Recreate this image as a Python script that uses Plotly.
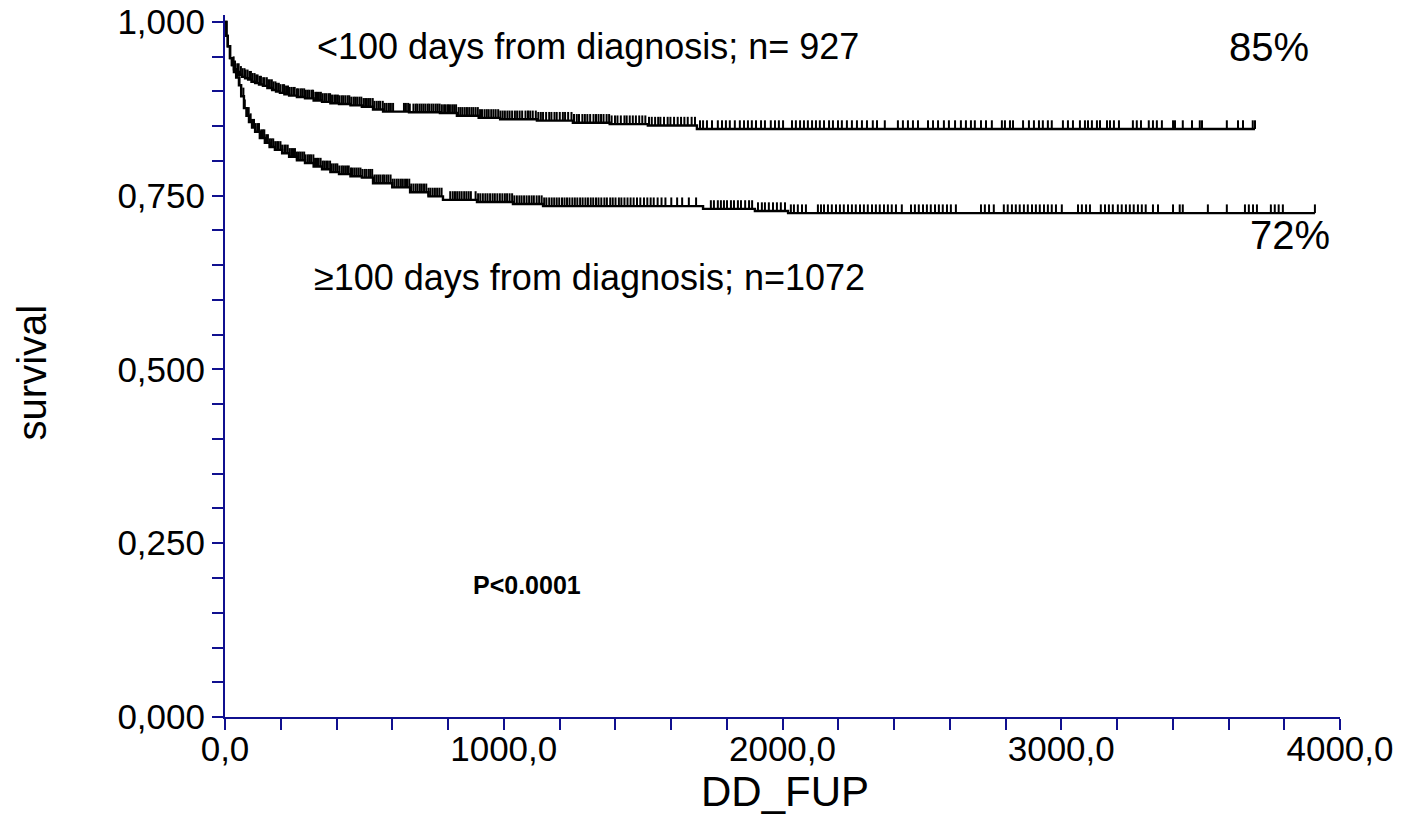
import numpy as np
import plotly.graph_objects as go

# ---------------- data ----------------
# Kaplan-Meier step points (days, survival)
early_t = [0, 5, 10, 18, 25, 32, 39, 50, 61, 72, 83, 95, 108, 122, 136, 152, 169, 183, 197, 213,
           230, 258, 287, 318, 348, 378, 409, 450, 491, 531, 567, 660, 771, 832, 910, 987, 1119,
           1248, 1380, 1517, 1693, 3695]
early_s = [1.000, 0.980, 0.965, 0.948, 0.938, 0.932, 0.928, 0.924, 0.921, 0.919, 0.917, 0.914,
           0.912, 0.910, 0.908, 0.905, 0.902, 0.900, 0.898, 0.896, 0.894, 0.892, 0.890, 0.887,
           0.885, 0.883, 0.882, 0.880, 0.878, 0.874, 0.871, 0.870, 0.869, 0.865, 0.862, 0.860,
           0.858, 0.855, 0.853, 0.851, 0.846, 0.846]

late_t = [0, 5, 10, 18, 25, 32, 40, 50, 58, 68, 77, 86, 97, 108, 125, 143, 160, 179, 205, 230,
          258, 287, 318, 348, 378, 409, 450, 491, 531, 600, 664, 730, 782, 904, 1033, 1141, 1715,
          1901, 2020, 3910]
late_s = [1.000, 0.980, 0.965, 0.948, 0.938, 0.928, 0.920, 0.909, 0.893, 0.876, 0.865, 0.856,
          0.848, 0.842, 0.833, 0.826, 0.820, 0.816, 0.811, 0.806, 0.801, 0.797, 0.792, 0.788,
          0.784, 0.781, 0.778, 0.776, 0.768, 0.762, 0.755, 0.749, 0.744, 0.741, 0.738, 0.735,
          0.731, 0.728, 0.725, 0.725]

# censoring times (days)
early_cens = [31, 36, 44, 49, 57, 63, 70, 74, 81, 88, 93, 99, 106, 112, 117, 124, 129, 137, 142,
              150, 155, 161, 168, 174, 181, 186, 193, 199, 207, 212, 219, 226, 231, 238, 245, 250,
              258, 263, 271, 277, 284, 290, 297, 303, 311, 316, 324, 330, 337, 344, 350, 357, 363,
              371, 377, 384, 392, 398, 405, 411, 419, 425, 432, 440, 446, 453, 461, 467, 474, 482,
              489, 497, 503, 509, 516, 522, 530, 536, 544, 551, 557, 566, 573, 580, 588, 595, 603,
              642, 649, 657, 663, 676, 684, 690, 698, 705, 712, 719, 727, 733, 741, 748, 756, 763,
              770, 778, 786, 792, 800, 807, 815, 822, 829, 838, 845, 852, 860, 868, 876, 884, 891,
              899, 907, 915, 922, 931, 939, 946, 955, 963, 971, 980, 988, 996, 1004, 1013, 1021,
              1030, 1040, 1048, 1057, 1066, 1078, 1087, 1095, 1104, 1115, 1124, 1133, 1141, 1152,
              1163, 1171, 1182, 1190, 1201, 1212, 1220, 1231, 1243, 1252, 1262, 1270, 1282, 1291,
              1300, 1310, 1322, 1331, 1340, 1349, 1358, 1369, 1378, 1387, 1399, 1408, 1420, 1433,
              1441, 1452, 1463, 1474, 1486, 1497, 1508, 1521, 1531, 1543, 1554, 1562, 1575, 1588,
              1598, 1611, 1624, 1636, 1648, 1660, 1674, 1686, 1704, 1715, 1729, 1747, 1768, 1783,
              1797, 1811, 1829, 1847, 1862, 1876, 1890, 1905, 1923, 1937, 1958, 1973, 1987, 2002,
              2034, 2048, 2063, 2077, 2091, 2106, 2120, 2134, 2149, 2167, 2181, 2199, 2213, 2231,
              2249, 2267, 2285, 2303, 2324, 2339, 2367, 2414, 2432, 2450, 2468, 2486, 2522, 2540,
              2558, 2579, 2597, 2619, 2640, 2658, 2676, 2690, 2712, 2730, 2751, 2787, 2798, 2816,
              2827, 2863, 2884, 2902, 2920, 2934, 2952, 2966, 3006, 3024, 3042, 3067, 3085, 3096,
              3110, 3128, 3139, 3164, 3175, 3189, 3207, 3257, 3271, 3286, 3314, 3329, 3343, 3361,
              3401, 3408, 3436, 3469, 3497, 3505, 3594, 3634, 3652, 3687, 3695]

late_cens = [44, 52, 58, 66, 71, 79, 85, 92, 97, 104, 110, 117, 122, 130, 136, 141, 148, 154, 161,
             167, 173, 180, 187, 192, 199, 205, 213, 218, 225, 232, 238, 244, 251, 258, 264, 270,
             277, 284, 289, 297, 303, 309, 317, 323, 330, 336, 343, 350, 356, 363, 369, 377, 383,
             390, 397, 403, 410, 418, 424, 431, 438, 444, 452, 458, 465, 472, 479, 486, 493, 501,
             507, 515, 521, 528, 536, 543, 550, 557, 565, 571, 579, 586, 594, 601, 608, 616, 623,
             631, 638, 646, 653, 661, 668, 676, 684, 691, 699, 706, 714, 722, 730, 737, 745, 753,
             761, 769, 777, 808, 817, 825, 833, 841, 849, 858, 866, 874, 882, 899, 908, 916, 925,
             934, 942, 951, 960, 968, 977, 986, 995, 1004, 1012, 1021, 1030, 1038, 1047, 1056,
             1064, 1073, 1082, 1091, 1100, 1108, 1118, 1127, 1136, 1145, 1153, 1163, 1172, 1181,
             1190, 1199, 1209, 1218, 1227, 1236, 1246, 1255, 1264, 1274, 1283, 1293, 1302, 1312,
             1321, 1331, 1340, 1350, 1361, 1370, 1382, 1391, 1401, 1413, 1422, 1433, 1444, 1455,
             1466, 1478, 1490, 1503, 1515, 1527, 1538, 1552, 1566, 1580, 1601, 1622, 1640, 1664,
             1690, 1743, 1754, 1768, 1779, 1790, 1801, 1815, 1826, 1840, 1851, 1866, 1880, 1891,
             1912, 1926, 1937, 1951, 1966, 1980, 1994, 2009, 2030, 2041, 2055, 2070, 2084, 2127,
             2138, 2149, 2163, 2177, 2192, 2206, 2220, 2235, 2249, 2263, 2278, 2292, 2306, 2321,
             2335, 2349, 2364, 2378, 2392, 2407, 2428, 2461, 2475, 2489, 2504, 2518, 2532, 2547,
             2561, 2575, 2590, 2604, 2622, 2712, 2726, 2741, 2758, 2794, 2808, 2823, 2837, 2851,
             2866, 2880, 2895, 2909, 2923, 2938, 2952, 2966, 2981, 3002, 3060, 3074, 3089, 3103,
             3142, 3157, 3171, 3185, 3203, 3217, 3232, 3246, 3260, 3275, 3289, 3303, 3329, 3347,
             3401, 3425, 3436, 3526, 3594, 3659, 3673, 3688, 3702, 3752, 3766, 3780, 3795, 3910]

x_tickvals = [0, 1000, 2000, 3000, 4000]
x_ticktext = ["0,0", "1000,0", "2000,0", "3000,0", "4000,0"]
y_tickvals = [0, 0.25, 0.5, 0.75, 1.0]
y_ticktext = ["0,000", "0,250", "0,500", "0,750", "1,000"]

label_early = "<100 days from diagnosis; n= 927"
label_late = "≥100 days from diagnosis; n=1072"
pct_early = "85%"
pct_late = "72%"
p_text = "P<0.0001"

# ---------------- style ----------------
AXIS = "#10108f"
FONT = "Liberation Sans, Arial, sans-serif"
TICK_H = 0.0125  # censor tick height in survival units


def step_value(times, surv, t):
    idx = np.searchsorted(np.asarray(times), np.asarray(t), side="right") - 1
    return np.asarray(surv)[idx]


fig = go.Figure()
for times, surv, cens in [(early_t, early_s, early_cens), (late_t, late_s, late_cens)]:
    fig.add_trace(go.Scatter(x=times, y=surv, mode="lines",
                             line=dict(color="black", width=2.4, shape="hv"),
                             showlegend=False, hoverinfo="skip"))
    cy = step_value(times, surv, cens)
    fig.add_trace(go.Scatter(
        x=cens, y=cy, mode="markers",
        marker=dict(size=1, color="rgba(0,0,0,0)"),
        error_y=dict(type="data", symmetric=False, array=[TICK_H] * len(cens),
                     arrayminus=[0] * len(cens), width=0, thickness=2, color="black"),
        showlegend=False, hoverinfo="skip"))

annots = [
    dict(x=323, y=0.964, text=label_early, xanchor="left", font=dict(size=36)),
    dict(x=312, y=0.632, text=label_late, xanchor="left", font=dict(size=36)),
    dict(x=3745, y=0.964, text=pct_early, xanchor="center", font=dict(size=40)),
    dict(x=3821, y=0.694, text=pct_late, xanchor="center", font=dict(size=40)),
    dict(x=1083, y=0.19, text="<b>" + p_text + "</b>", xanchor="center", font=dict(size=25)),
]
for a in annots:
    a.update(xref="x", yref="y", showarrow=False, yanchor="middle")
    a["font"].update(family=FONT, color="black")
    fig.add_annotation(**a)

fig.add_annotation(x=0.502, y=-0.1068, xref="paper", yref="paper", text="DD_FUP", showarrow=False,
                   xanchor="center", yanchor="middle", font=dict(family=FONT, size=42, color="black"))
fig.add_annotation(x=-0.173, y=0.491, xref="paper", yref="paper", text="survival", showarrow=False,
                   textangle=-90, xanchor="center", yanchor="middle",
                   font=dict(family=FONT, size=40, color="black"))

axis_common = dict(showgrid=False, zeroline=False, showline=True, linecolor=AXIS, linewidth=2,
                   ticks="outside", ticklen=11, tickwidth=2, tickcolor=AXIS, automargin=False,
                   tickfont=dict(family=FONT, size=35, color="black"))

fig.update_xaxes(range=[0, 4000], tickvals=x_tickvals, ticktext=x_ticktext, ticklabelstandoff=-11,
                 minor=dict(ticks="outside", ticklen=11, tickwidth=2, tickcolor=AXIS, dtick=200,
                            tick0=0, showgrid=False),
                 **axis_common)
fig.update_yaxes(range=[0, 1.01], tickvals=y_tickvals, ticktext=y_ticktext,
                 minor=dict(ticks="outside", ticklen=11, tickwidth=2, tickcolor=AXIS, dtick=0.05,
                            tick0=0, showgrid=False),
                 **axis_common)

fig.update_layout(width=1404, height=818, margin=dict(l=225, r=64, t=15, b=101),
                  plot_bgcolor="white", paper_bgcolor="white", showlegend=False)

fig.write_html("out.html")
